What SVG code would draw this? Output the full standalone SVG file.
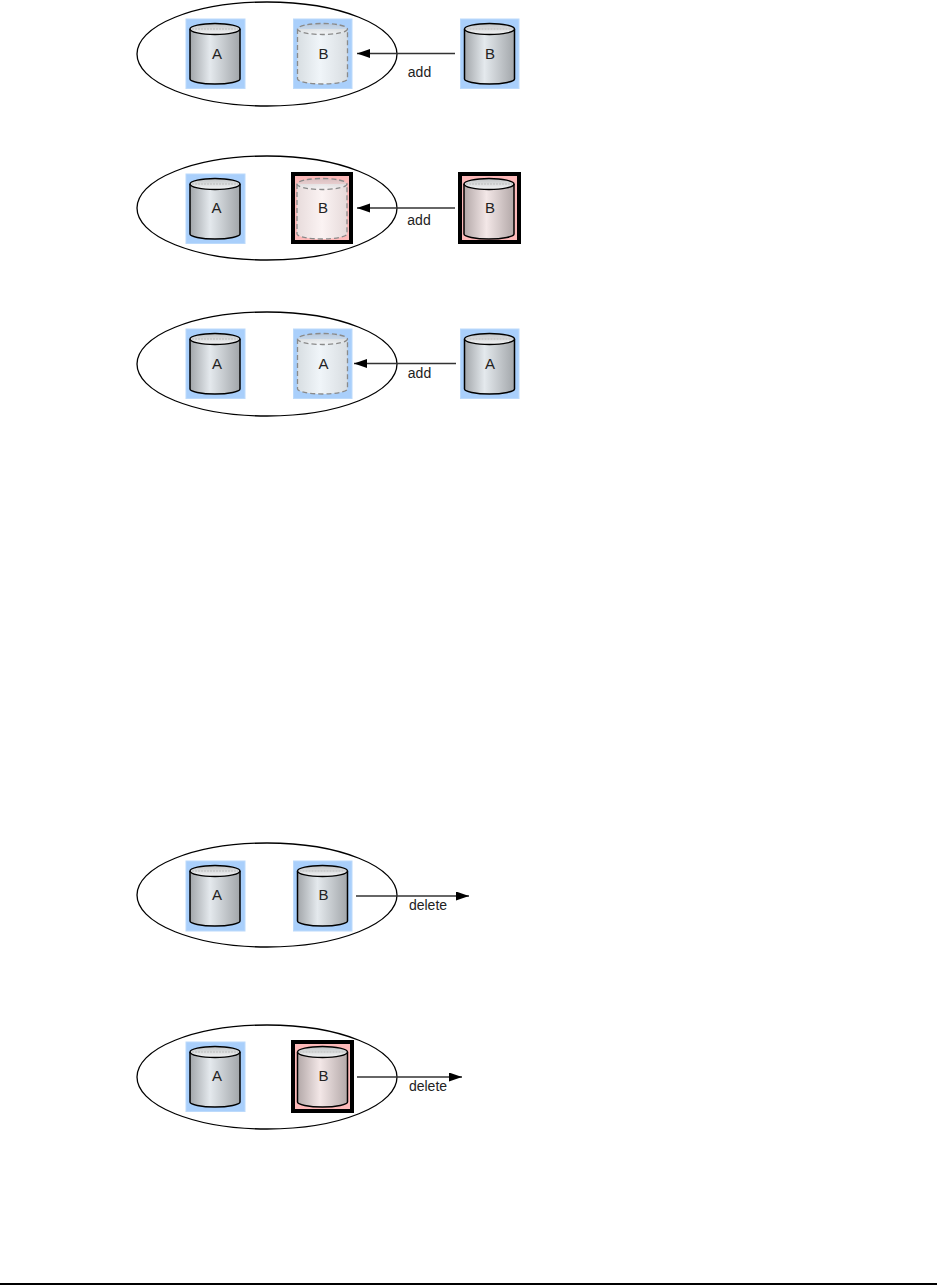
<svg xmlns="http://www.w3.org/2000/svg" width="937" height="1285" viewBox="0 0 937 1285">
<style>
.bg{fill:#fff}
.e{fill:none;stroke:#000;stroke-width:1.3}
.blue{fill:#a9cffb;stroke:#bcdafb;stroke-width:1}
.pink{fill:#fdb9b9;stroke:#000;stroke-width:4}
.cyl{stroke:#000;stroke-width:1.5}
.ghost{stroke:#8a8a8a;stroke-width:1.3;stroke-dasharray:5 3}
.inner{fill:none;stroke:#aaa;stroke-width:.6;stroke-dasharray:2 1}
.t{font-family:"Liberation Sans",Arial,sans-serif;font-size:14px;fill:#222;text-anchor:middle}
.n{font-size:15px}
.c{stroke:#333;stroke-width:1.3;fill:none}
</style>
<defs>
<linearGradient id="gg"><stop offset="0" stop-color="#a2a6aa"/><stop offset=".4" stop-color="#e4e9ed"/><stop offset="1" stop-color="#a2a6aa"/></linearGradient>
<linearGradient id="gl"><stop offset="0" stop-color="#d8dee2"/><stop offset=".45" stop-color="#f0f5f9"/><stop offset="1" stop-color="#d8dde1"/></linearGradient>
<linearGradient id="pg"><stop offset="0" stop-color="#b3a8a8"/><stop offset=".45" stop-color="#f3e7e7"/><stop offset="1" stop-color="#b3a8a8"/></linearGradient>
<linearGradient id="pl"><stop offset="0" stop-color="#e8dcdc"/><stop offset=".5" stop-color="#fbf3f3"/><stop offset="1" stop-color="#e6dada"/></linearGradient>
<linearGradient id="top" x1="0" y1="0" x2="0" y2="1"><stop offset="0" stop-color="#c0c3c5"/><stop offset="1" stop-color="#f4f5f6"/></linearGradient>
<marker id="ah" markerWidth="14" markerHeight="10" refX="13" refY="4.500" orient="auto" markerUnits="userSpaceOnUse"><path d="M0 0L13 4.500L0 9Z" fill="#000"/></marker>
<g id="solid"><path class="cyl" fill="url(#gg)" d="M0 6V56C0 58.500 11 61 25 61S50 58.500 50 56V6"/><ellipse class="cyl" fill="url(#top)" cx="25" cy="6" rx="25" ry="5.500"/><path class="inner" d="M2 6H48"/></g>
<g id="solidP"><path class="cyl" fill="url(#pg)" d="M0 6V56C0 58.500 11 61 25 61S50 58.500 50 56V6"/><ellipse class="cyl" fill="url(#top)" cx="25" cy="6" rx="25" ry="5.500"/><path class="inner" d="M2 6H48"/></g>
<g id="dash"><path class="ghost" fill="url(#gl)" d="M0 6V56C0 58.500 11 61 25 61S50 58.500 50 56V6"/><ellipse class="ghost" fill="url(#top)" fill-opacity=".6" cx="25" cy="6" rx="25" ry="5.500"/></g>
<g id="dashP"><path class="ghost" fill="url(#pl)" d="M0 6V56C0 58.500 11 61 25 61S50 58.500 50 56V6"/><ellipse class="ghost" fill="url(#top)" fill-opacity=".6" cx="25" cy="6" rx="25" ry="5.500"/></g>
</defs>
<rect class="bg" width="937" height="1285"/>

<g id="sets">
<ellipse id="set1" class="e" cx="267" cy="54" rx="130" ry="52"/>
<ellipse id="set2" class="e" cx="267" cy="208" rx="130" ry="52"/>
<ellipse id="set3" class="e" cx="267" cy="364" rx="130" ry="52"/>
<ellipse id="set4" class="e" cx="267" cy="895" rx="130" ry="52"/>
<ellipse id="set5" class="e" cx="267" cy="1077" rx="130" ry="52"/>
</g>

<g id="row1-a"><rect class="blue" x="186" y="19" width="59" height="69.500"/><use href="#solid" x="190" y="23"/><text class="t n" x="217" y="59">A</text></g>
<g id="row1-b"><rect class="blue" x="293.500" y="19" width="58.500" height="69.500"/><use href="#dash" x="297.500" y="23"/><text class="t n" x="323.500" y="59">B</text></g>
<g id="row1-src"><rect class="blue" x="460.500" y="19" width="58.500" height="69.500"/><use href="#solid" x="464.500" y="23"/><text class="t n" x="490" y="59">B</text></g>

<g id="row2-a"><rect class="blue" x="186" y="174" width="59" height="69.500"/><use href="#solid" x="190" y="178"/><text class="t n" x="216.500" y="213">A</text></g>
<g id="row2-b"><rect class="pink" x="293" y="174" width="58" height="68"/><use href="#dashP" x="297" y="178"/><text class="t n" x="323" y="213">B</text></g>
<g id="row2-src"><rect class="pink" x="460" y="174" width="59" height="68"/><use href="#solidP" x="464" y="178"/><text class="t n" x="490" y="213">B</text></g>

<g id="row3-a"><rect class="blue" x="186" y="329" width="59" height="69.500"/><use href="#solid" x="190" y="333"/><text class="t n" x="217" y="369">A</text></g>
<g id="row3-b"><rect class="blue" x="293.500" y="329" width="58.500" height="69.500"/><use href="#dash" x="297.500" y="333"/><text class="t n" x="323.500" y="369">A</text></g>
<g id="row3-src"><rect class="blue" x="460.500" y="329" width="58.500" height="69.500"/><use href="#solid" x="464.500" y="333"/><text class="t n" x="490" y="369">A</text></g>

<g id="row4-a"><rect class="blue" x="186" y="861" width="59" height="70"/><use href="#solid" x="190" y="865"/><text class="t n" x="217" y="900">A</text></g>
<g id="row4-b"><rect class="blue" x="293.500" y="861" width="58.500" height="70"/><use href="#solid" x="297.500" y="865"/><text class="t n" x="323.500" y="900">B</text></g>

<g id="row5-a"><rect class="blue" x="186" y="1042" width="59" height="69.500"/><use href="#solid" x="190" y="1046"/><text class="t n" x="217" y="1081">A</text></g>
<g id="row5-b"><rect class="pink" x="293" y="1042" width="59" height="69"/><use href="#solidP" x="297.500" y="1046"/><text class="t n" x="323.500" y="1081">B</text></g>

<g id="connectors">
<path class="c" marker-end="url(#ah)" d="M455 53.500H357"/>
<path class="c" marker-end="url(#ah)" d="M455 208H357"/>
<path class="c" marker-end="url(#ah)" d="M456 363.500H354"/>
<path class="c" marker-end="url(#ah)" d="M356 896H469"/>
<path class="c" marker-end="url(#ah)" d="M357 1077H462"/>
</g>

<g id="labels">
<text class="t" x="419.500" y="77">add</text>
<text class="t" x="419" y="225">add</text>
<text class="t" x="419.500" y="378">add</text>
<text class="t" x="428" y="910">delete</text>
<text class="t" x="428" y="1091">delete</text>
</g>
<rect id="rule" x="0" y="1283" width="937" height="2" fill="#000"/>
</svg>
